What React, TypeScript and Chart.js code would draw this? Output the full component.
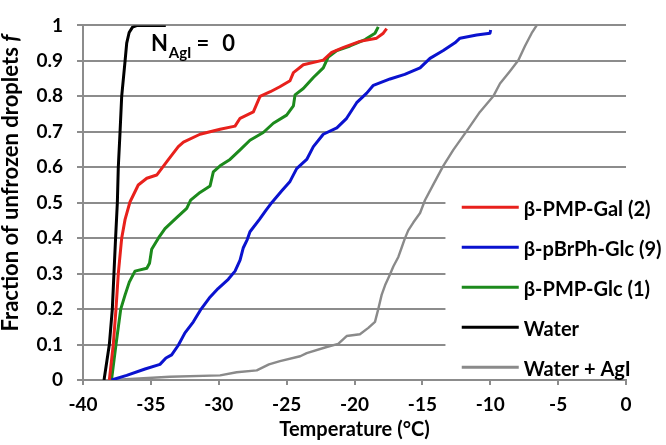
import { useEffect, useRef } from "react";
import { Chart, registerables } from "chart.js";

Chart.register(...registerables);

// ---- Data (temperature °C, fraction unfrozen f) ----
const seriesLabels = ["β-PMP-Gal (2)", "β-pBrPh-Glc (9)", "β-PMP-Glc (1)", "Water", "Water + AgI"];
const seriesColors = ["#e8211c", "#0a12cf", "#1c8a1c", "#000000", "#8a8a8a"];
const seriesWidths = [3, 3, 3, 3, 2.4];

const galT = [-38.06, -37.77, -37.57, -37.4, -37.15, -36.9, -36.54, -35.93, -35.3, -34.57, -33.7, -32.98, -32.6, -31.38, -29.9, -28.8, -28.43, -27.45, -26.96, -26.2, -25.5, -24.75, -24.5, -23.77, -22.3, -21.68, -20.8, -19.6, -18.37, -17.88, -17.63];
const galF = [0, 0.1, 0.2, 0.3, 0.4, 0.453, 0.502, 0.55, 0.569, 0.578, 0.622, 0.658, 0.671, 0.693, 0.707, 0.716, 0.738, 0.756, 0.8, 0.813, 0.827, 0.844, 0.867, 0.889, 0.902, 0.924, 0.938, 0.955, 0.964, 0.978, 0.991];

const brT = [-37.9, -36.78, -35.43, -34.33, -33.89, -33.47, -32.98, -32.49, -31.87, -31.3, -30.7, -30.05, -29.3, -28.8, -28.43, -28.19, -27.9, -27.7, -27.0, -26.5, -26.1, -25.37, -24.75, -24.26, -23.52, -23.03, -22.3, -21.3, -20.58, -19.84, -19.1, -18.61, -17.38, -16.3, -15.17, -14.44, -13.46, -12.6, -12.23, -11.0, -10.02, -9.97];
const brF = [0, 0.013, 0.031, 0.044, 0.062, 0.071, 0.098, 0.133, 0.164, 0.2, 0.231, 0.258, 0.284, 0.307, 0.338, 0.373, 0.396, 0.418, 0.453, 0.48, 0.5, 0.533, 0.56, 0.596, 0.622, 0.658, 0.693, 0.711, 0.738, 0.782, 0.809, 0.831, 0.849, 0.862, 0.88, 0.907, 0.929, 0.951, 0.964, 0.973, 0.978, 0.987];

const glcT = [-37.9, -37.57, -37.22, -36.9, -36.59, -36.17, -35.3, -35.1, -34.94, -34.45, -33.96, -33.1, -32.36, -32.07, -31.38, -30.64, -30.4, -29.9, -29.17, -28.43, -27.7, -26.72, -25.98, -25.0, -24.5, -24.38, -23.77, -23.03, -22.3, -21.93, -21.3, -20.33, -19.22, -18.49, -18.25];
const glcF = [0, 0.1, 0.2, 0.24, 0.276, 0.307, 0.315, 0.329, 0.369, 0.4, 0.427, 0.458, 0.484, 0.507, 0.529, 0.547, 0.587, 0.604, 0.622, 0.649, 0.676, 0.698, 0.724, 0.747, 0.773, 0.804, 0.822, 0.853, 0.88, 0.911, 0.929, 0.942, 0.96, 0.978, 0.996];

const waterT = [-38.45, -38.06, -37.84, -37.72, -37.6, -37.47, -37.4, -37.27, -37.15, -36.9, -36.78, -36.6, -36.35, -36.0, -33.9];
const waterF = [0, 0.1, 0.2, 0.3, 0.4, 0.5, 0.6, 0.7, 0.8, 0.9, 0.95, 0.98, 0.995, 1, 1];

const agiT = [-37.8, -33.6, -29.9, -28.68, -27.2, -26.3, -25.49, -24.0, -23.52, -22.05, -21.2, -20.58, -19.6, -18.98, -18.49, -18.25, -18.0, -17.75, -17.38, -17.14, -16.77, -16.53, -16.28, -16.04, -15.67, -15.17, -14.81, -14.2, -13.46, -12.72, -11.74, -10.76, -9.78, -9.28, -8.55, -7.93, -7.44, -6.95, -6.58];
const agiF = [0, 0.009, 0.013, 0.022, 0.027, 0.044, 0.053, 0.067, 0.076, 0.093, 0.102, 0.124, 0.129, 0.147, 0.164, 0.2, 0.24, 0.267, 0.298, 0.32, 0.347, 0.373, 0.4, 0.422, 0.444, 0.471, 0.507, 0.551, 0.604, 0.649, 0.702, 0.756, 0.8, 0.836, 0.871, 0.902, 0.942, 0.978, 1.0];

const xTicks = [-40, -35, -30, -25, -20, -15, -10, -5, 0];
const yTicks = [0, 0.1, 0.2, 0.3, 0.4, 0.5, 0.6, 0.7, 0.8, 0.9, 1];
const xTitle = "Temperature (°C)";
const yTitleMain = "Fraction of unfrozen droplets ";
const yTitleItalic = "f";

const FONT = "Lato, 'Open Sans', sans-serif";
const GRID = "#8c8c8c";

function pts(t: number[], f: number[]) {
  return t.map((x, i) => ({ x, y: f[i] }));
}

const overlayPlugin = {
  id: "overlay",
  afterDatasetsDraw(chart: any) {
    const ctx = chart.ctx as CanvasRenderingContext2D;
    const xs = chart.scales.x;
    const ys = chart.scales.y;
    ctx.save();
    // legend box (white, covers gridlines)
    const boxLeft = xs.getPixelForValue(-13.3);
    ctx.fillStyle = "#ffffff";
    ctx.fillRect(boxLeft, ys.getPixelForValue(0.52), chart.width - boxLeft, ys.getPixelForValue(0.02) - ys.getPixelForValue(0.52));
    chart.data.datasets.forEach((ds: any, i: number) => {
      const y = ys.getPixelForValue(0.487) + i * 40;
      const x0 = xs.getPixelForValue(-12.1);
      const x1 = xs.getPixelForValue(-7.9);
      ctx.strokeStyle = ds.borderColor;
      ctx.lineWidth = 3;
      ctx.beginPath();
      ctx.moveTo(x0, y);
      ctx.lineTo(x1, y);
      ctx.stroke();
      ctx.fillStyle = "#000";
      ctx.font = `bold 20px ${FONT}`;
      ctx.textBaseline = "middle";
      ctx.textAlign = "left";
      ctx.fillText(ds.label, x1 + 5, y + 2);
    });
    // annotation N_AgI = 0
    let ax = xs.getPixelForValue(-35.0);
    const ay = ys.getPixelForValue(0.929);
    ctx.textBaseline = "alphabetic";
    ctx.font = `bold 22px ${FONT}`;
    ctx.fillText("N", ax, ay);
    ax += ctx.measureText("N").width + 1;
    ctx.font = `bold 15px ${FONT}`;
    ctx.fillText("AgI", ax, ay + 7);
    ax += ctx.measureText("AgI").width + 5;
    ctx.font = `bold 22px ${FONT}`;
    ctx.fillText("=", ax, ay);
    ax += ctx.measureText("=").width + 13;
    ctx.fillText("0", ax, ay);
    // y-axis title with italic f
    ctx.translate(11, 183);
    ctx.rotate(-Math.PI / 2);
    ctx.font = `bold 22px ${FONT}`;
    const w1 = ctx.measureText(yTitleMain).width;
    ctx.font = `italic bold 22px ${FONT}`;
    const w2 = ctx.measureText(yTitleItalic).width;
    const start = -(w1 + w2) / 2;
    ctx.textBaseline = "middle";
    ctx.font = `bold 22px ${FONT}`;
    ctx.fillText(yTitleMain, start, 0);
    ctx.font = `italic bold 22px ${FONT}`;
    ctx.fillText(yTitleItalic, start + w1, 0);
    ctx.restore();
  },
};

export default function App() {
  const ref = useRef<HTMLCanvasElement | null>(null);
  useEffect(() => {
    if (!ref.current) return;
    const sets = [
      pts(galT, galF),
      pts(brT, brF),
      pts(glcT, glcF),
      pts(waterT, waterF),
      pts(agiT, agiF),
    ];
    const chart = new Chart(ref.current, {
      type: "line",
      data: {
        datasets: sets.map((d, i) => ({
          label: seriesLabels[i],
          data: d,
          borderColor: seriesColors[i],
          backgroundColor: seriesColors[i],
          borderWidth: seriesWidths[i],
          pointRadius: 0,
          tension: 0,
          fill: false,
          borderJoinStyle: "round" as const,
        })),
      },
      options: {
        responsive: false,
        animation: false,
        layout: { padding: { top: 5, right: 40, left: 0, bottom: 0 } },
        plugins: { legend: { display: false }, tooltip: { enabled: false } },
        scales: {
          x: {
            type: "linear",
            min: -40,
            max: 0,
            afterFit: (s: any) => { s.height = 65; },
            afterBuildTicks: (s: any) => { s.ticks = xTicks.map((v) => ({ value: v })); },
            ticks: { color: "#000", font: { family: FONT, size: 19, weight: "bold" }, padding: 8, maxRotation: 0 },
            grid: { drawOnChartArea: false, drawTicks: true, tickLength: 5, color: GRID, lineWidth: 2 },
            border: { display: true, color: GRID, width: 2 },
            title: { display: true, text: xTitle, color: "#000", font: { family: FONT, size: 20, weight: "bold" }, padding: { top: 0, bottom: 3 } },
          },
          y: {
            type: "linear",
            min: 0,
            max: 1,
            afterFit: (s: any) => { s.width = 83; },
            afterBuildTicks: (s: any) => { s.ticks = yTicks.map((v) => ({ value: v })); },
            ticks: {
              color: "#000",
              font: { family: FONT, size: 19, weight: "bold" },
              padding: 14,
              callback: (v: any) => (v === 0 || v === 1 ? String(v) : Number(v).toFixed(1)),
            },
            grid: { color: GRID, lineWidth: 2, tickLength: 6 },
            border: { display: true, color: GRID, width: 2 },
          },
        },
      },
      plugins: [overlayPlugin],
    });
    return () => chart.destroy();
  }, []);
  return (
    <div style={{ position: "absolute", left: 0, top: 0, width: 666, height: 445, background: "#fff" }}>
      <canvas ref={ref} width={666} height={445} />
    </div>
  );
}
